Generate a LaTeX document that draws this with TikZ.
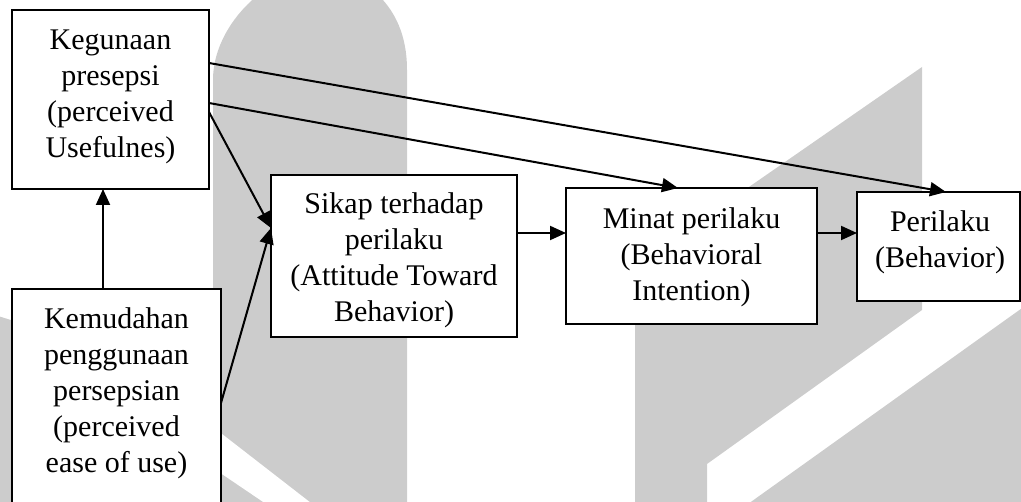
\documentclass[tikz,border=0pt]{standalone}
\usepackage{fontspec}
\setmainfont{Liberation Serif}
\usetikzlibrary{arrows.meta}
\definecolor{wm}{RGB}{204,204,204}
\begin{document}
\begin{tikzpicture}[x=1pt,y=-1pt,
  box/.style={draw, line width=1.5pt, fill=white, rectangle, inner sep=0pt},
  txt/.style={inner sep=0pt, align=center, anchor=north, font=\fontsize{30}{36}\selectfont},
  conn/.style={line width=2pt, -{Triangle[length=16pt,width=14pt]}},
  mark/.style={fill=wm, draw=none}]
\useasboundingbox (0,0) rectangle (1021,502);
\begin{scope}
\clip (0,0) rectangle (1021,502);
% watermark
\fill[wm] (213,510) -- (213,80) .. controls (213,45) and (235,12) .. (262,-8) -- (375,-8) .. controls (395,10) and (407,35) .. (407,70) -- (407,510) -- cycle;
\fill[white] (213,427) -- (320,510) -- (275,510) -- (213,468) -- cycle;
\fill[wm] (635,510) -- (635,266) -- (922,67) -- (922,310) -- (707,464) -- (707,510) -- cycle;
\fill[wm] (1025,306) -- (748,504) -- (1025,504) -- cycle;
\fill[wm] (-2,316) -- (14,321) -- (14,510) -- (-2,510) -- cycle;
% boxes
\node[box, minimum width=197pt, minimum height=179pt] (ku) at (110.5,99.5) {};
\node[box, minimum width=209pt, minimum height=240pt] (km) at (116.5,409) {};
\node[box, minimum width=246pt, minimum height=162pt] (sk) at (394,256) {};
\node[box, minimum width=251pt, minimum height=136pt] (mn) at (691.5,256) {};
\node[box, minimum width=163pt, minimum height=109pt] (pr) at (938.5,246.5) {};
\end{scope}
% texts
\node[txt] (tku) at (110.5,23.8) {\strut Kegunaan\\presepsi\\(perceived\\Usefulnes)};
\node[txt] (tkm) at (116.5,302.8) {\strut Kemudahan\\penggunaan\\persepsian\\(perceived\\ease of use)};
\node[txt] (tsk) at (394,187.8) {\strut Sikap terhadap\\perilaku\\(Attitude Toward\\Behavior)};
\node[txt] (tmn) at (691.5,202.8) {\strut Minat perilaku\\(Behavioral\\Intention)};
\node[txt] (tpr) at (940,205.8) {\strut Perilaku\\(Behavior)};
% connector end points on box borders
\coordinate (ku-a) at (209,63);
\coordinate (ku-b) at (209,103);
\coordinate (ku-c) at (209,112);
\coordinate (ku-bot) at (103,189);
\coordinate (km-top) at (103,289);
\coordinate (km-a) at (221,403);
\coordinate (sk-in) at (271,228);
\coordinate (sk-out) at (517,233);
\coordinate (mn-in) at (566,233);
\coordinate (mn-top) at (678,188);
\coordinate (mn-out) at (817,233);
\coordinate (pr-in) at (857,233);
\coordinate (pr-top) at (946,192);
% connectors
\draw[conn] (km-top) -- (ku-bot);
\draw[conn] (ku-a) -- (pr-top);
\draw[conn] (ku-b) -- (mn-top);
\draw[conn] (ku-c) -- (sk-in);
\draw[conn] (km-a) -- (sk-in);
\draw[conn] (sk-out) -- (mn-in);
\draw[conn] (mn-out) -- (pr-in);
\end{tikzpicture}
\end{document}
